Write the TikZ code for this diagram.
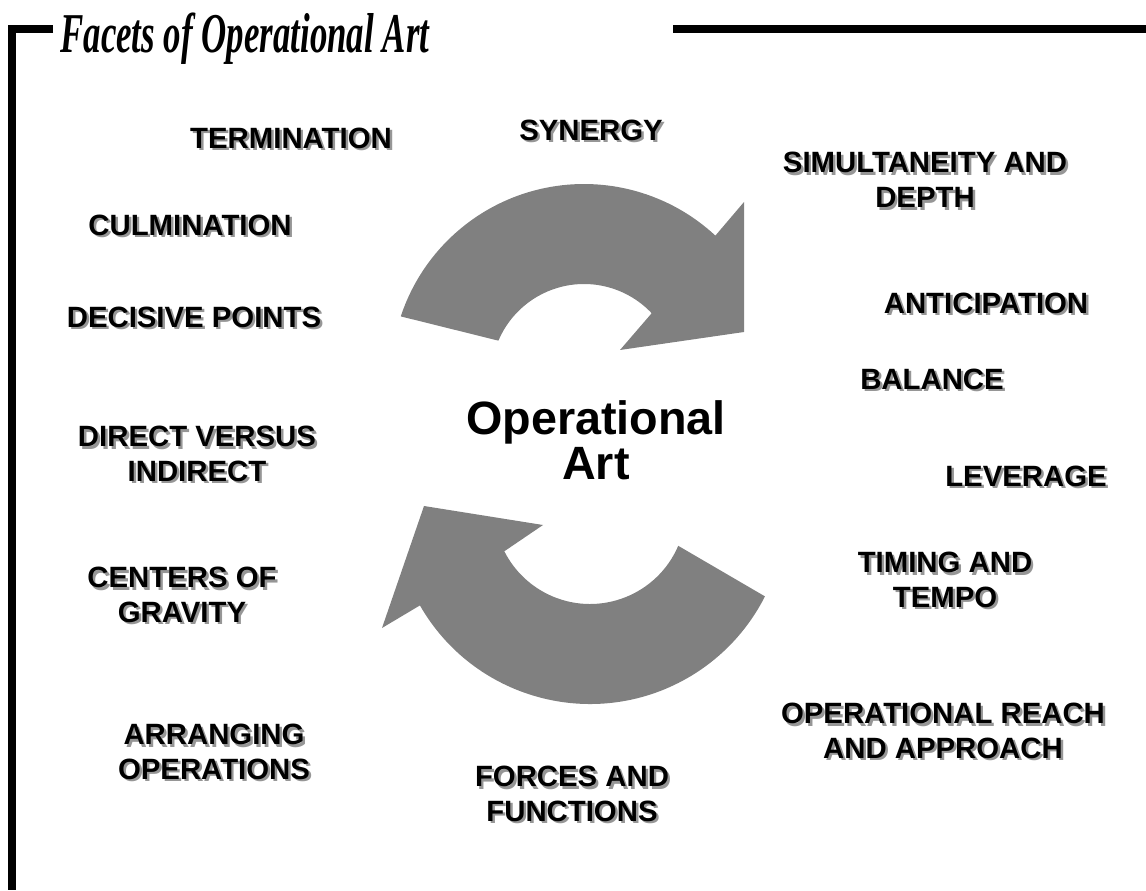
\documentclass[tikz,border=0pt]{standalone}
\usepackage{fontspec}
\setmainfont{Liberation Serif}
\setsansfont{Liberation Sans}
\usepackage{graphicx}
\definecolor{arrowgray}{RGB}{128,128,128}
\definecolor{shadowgray}{RGB}{150,150,150}
\tikzset{
  facet/.style={inner sep=0pt, align=center, font={\sffamily\bfseries\fontsize{16.7pt}{19.8pt}\selectfont}},
  facetshadow/.style={facet, text=shadowgray, xshift=1.4pt, yshift=-1.4pt},
  frameline/.style={line width=0.16cm, line join=miter}
}
\begin{document}
\begin{tikzpicture}[x=0.02cm, y=0.02cm]
				\useasboundingbox (0,0) rectangle (1146,890);
				% frame and title
				\draw[frameline] (53,861) -- (12,861) -- (12,0);
				\draw[frameline] (673,861) -- (1146,861);
				\node[anchor=base west, inner sep=0pt, font={\rmfamily\bfseries\itshape\fontsize{32pt}{36pt}\selectfont}] (title) at (60,837) {\scalebox{0.62}[1]{Facets of Operational Art}};
				% the two curved arrows
				\coordinate (upc) at (584,513);
				\coordinate (loc) at (590,382);
				\fill[arrowgray] ([shift={(161.7:193)}]upc) arc[start angle=161.7, end angle=47.1, radius=193]
					-- (744,688) -- (744,558) -- (620,540)
					-- ([shift={(43.3:93)}]upc) arc[start angle=43.3, end angle=157, radius=93] -- cycle;
				\fill[arrowgray] ([shift={(-23.2:96)}]loc) arc[start angle=-23.2, end angle=-153.2, radius=96]
					-- (543,365) -- (424,384) -- (382,262)
					-- ([shift={(-150.2:196)}]loc) arc[start angle=-150.2, end angle=-26.8, radius=196] -- cycle;
				% centre text
				\node[inner sep=0pt, align=center, font={\sffamily\bfseries\fontsize{26.6pt}{25.5pt}\selectfont}] (opart) at (596,450) {Operational\\Art};
				% facets
				\foreach \nm/\pos/\txt in {
					term/{291,752}/TERMINATION,
					syn/{591,760}/SYNERGY,
					simul/{925,710}/{SIMULTANEITY AND\\DEPTH},
					culm/{190,665}/CULMINATION,
					decis/{194,573}/DECISIVE POINTS,
					antic/{986,587}/ANTICIPATION,
					bal/{932,511}/BALANCE,
					direct/{197,436}/{DIRECT VERSUS\\INDIRECT},
					lever/{1026,414}/LEVERAGE,
					grav/{182,295}/{CENTERS OF\\GRAVITY},
					timing/{945,310}/{TIMING AND\\TEMPO},
					reach/{943,159}/{OPERATIONAL REACH\\AND APPROACH},
					arrang/{214,138}/{ARRANGING\\OPERATIONS},
					forces/{572,96}/{FORCES AND\\FUNCTIONS}}
				{
					\node[facetshadow] (\nm-sh) at (\pos) {\txt};
					\node[facet] (\nm) at (\pos) {\txt};
				}
\end{tikzpicture}
\end{document}
